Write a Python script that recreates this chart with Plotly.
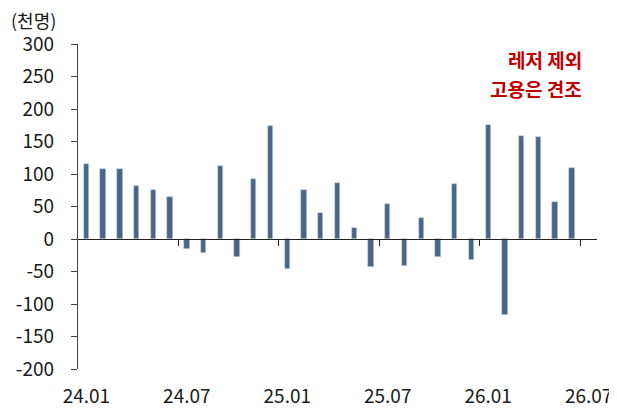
import plotly.graph_objects as go

months = ["24.01","24.02","24.03","24.04","24.05","24.06","24.07","24.08","24.09","24.10","24.11","24.12",
          "25.01","25.02","25.03","25.04","25.05","25.06","25.07","25.08","25.09","25.10","25.11","25.12",
          "26.01","26.02","26.03","26.04","26.05","26.06","26.07"]
values = [115, 107, 107, 81, 76, 65, -15, -22, 112, -27, 92, 174,
          -46, 76, 40, 86, 17, -43, 54, -41, 32, -28, 85, -32,
          175, -117, 158, 157, 57, 110, None]
label_months = ["24.01","24.07","25.01","25.07","26.01","26.07"]
y_ticks = list(range(-200, 301, 50))
y_tick_text = [str(v) for v in y_ticks]
note_lines = ["레저 제외", "고용은 견조"]
unit_label = "(천명)"

FONT = "Noto Sans CJK KR"
idx = list(range(len(months)))
label_idx = [months.index(m) for m in label_months]
boundary_idx = [i - 0.5 for i in label_idx[1:]]

# page has an 8px body margin; figure is sized so the plot area lands at x 78..597, y 44..369
OFF = 8
fig = go.Figure()
fig.add_trace(go.Bar(x=idx, y=values, width=0.32,
                     marker=dict(color="#4A6587", line=dict(color="#C9D3DF", width=0.6)),
                     xaxis="x", yaxis="y", showlegend=False))
fig.add_trace(go.Scatter(x=[idx[0]], y=[0], mode="markers", marker=dict(opacity=0),
                         xaxis="x2", yaxis="y", showlegend=False, hoverinfo="skip"))

fig.update_layout(
    width=617 - OFF, height=409 - OFF,
    margin=dict(l=78 - OFF, r=20, t=44 - OFF, b=40, autoexpand=False),
    plot_bgcolor="white", paper_bgcolor="white",
    font=dict(family=FONT, size=19, color="#1a1a1a"),
    xaxis=dict(range=[-0.5, len(months) - 0.5], tickmode="array", tickvals=label_idx,
               ticktext=label_months, showline=False, ticks="", showgrid=False,
               zeroline=False, ticklabelstandoff=14, automargin=False),
    xaxis2=dict(range=[-0.5, len(months) - 0.5], overlaying="x", anchor="free", position=0.4,
                side="bottom", showline=True, linecolor="#222", linewidth=1.3,
                tickmode="array", tickvals=boundary_idx, ticks="outside", ticklen=6,
                tickcolor="#222", tickwidth=1.3, showticklabels=False, showgrid=False,
                zeroline=False, automargin=False),
    yaxis=dict(range=[-200, 300], tickmode="array", tickvals=y_ticks, ticktext=y_tick_text,
               showline=True, linecolor="#444", linewidth=1.2, ticks="outside", ticklen=6,
               tickcolor="#444", tickwidth=1.2, showgrid=False, zeroline=False,
               ticklabelstandoff=13, automargin=False),
    bargap=0,
)

fig.add_annotation(text=unit_label, xref="paper", yref="paper",
                   x=(9 - 78) / 519, y=(369 - 20) / 325, xanchor="left", yanchor="middle",
                   showarrow=False, font=dict(family=FONT, size=18, color="#1a1a1a"))
for line, ypix in zip(note_lines, [60, 88]):
    fig.add_annotation(text="<b>" + line + "</b>", xref="paper", yref="paper",
                       x=(584 - 78) / 519, y=(369 - ypix) / 325, xanchor="right", yanchor="middle",
                       showarrow=False, font=dict(family=FONT, size=19, color="#C00000"))

fig.write_html("out.html")
